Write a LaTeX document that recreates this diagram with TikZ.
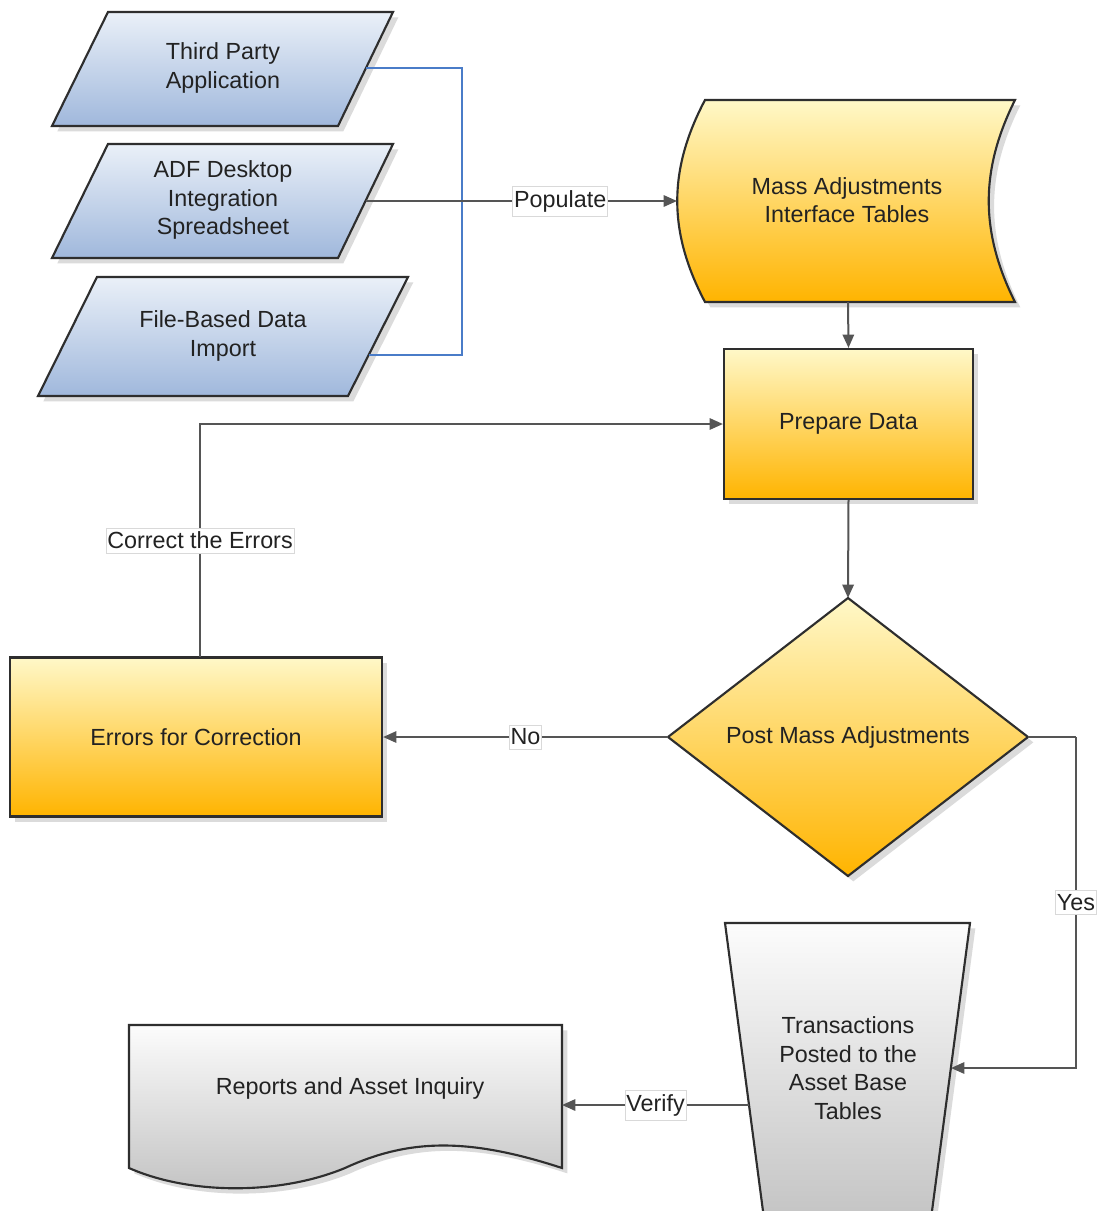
\documentclass[tikz,border=0pt]{standalone}
\usepackage{fontspec}
\setmainfont{Liberation Sans}
\usetikzlibrary{arrows.meta}
\definecolor{ytop}{HTML}{FFF8C8}
\definecolor{ybot}{HTML}{FFB400}
\definecolor{btop}{HTML}{EAF0F8}
\definecolor{bbot}{HTML}{A0B8DC}
\definecolor{gtop}{HTML}{FCFCFC}
\definecolor{gbot}{HTML}{C2C2C2}
\definecolor{edgec}{HTML}{2E2E2E}
\definecolor{connc}{HTML}{555555}
\definecolor{bluel}{HTML}{4A7CC8}
\definecolor{txtc}{HTML}{222222}
\begin{document}
\begin{tikzpicture}[x=0.75pt,y=-0.75pt,
  font=\fontsize{17.5}{21.5}\selectfont, text=txtc,
  sh/.style={preaction={fill=black!14, transform canvas={xshift=4pt,yshift=-4pt}}},
  yshape/.style={sh, draw=edgec, line width=1.6pt, top color=ytop, bottom color=ybot},
  bshape/.style={sh, draw=edgec, line width=1.6pt, top color=btop, bottom color=bbot},
  gshape/.style={sh, draw=edgec, line width=1.6pt, top color=gtop, bottom color=gbot},
  txt/.style={align=center, inner sep=0pt},
  conn/.style={draw=connc, line width=1.5pt, -{Triangle[length=10pt,width=8.5pt]}},
  plain/.style={draw=connc, line width=1.5pt},
  bluecon/.style={draw=bluel, line width=1.3pt},
  lab/.style={fill=white, draw=black!15, line width=0.5pt, inner xsep=1pt, inner ysep=3pt, text=txtc}]
\fill[white] (0,0) rectangle (1097,1211);
\useasboundingbox (0,0) rectangle (1097,1211);
\clip (0,0) rectangle (1097,1211);

% input parallelograms
\path[bshape] (108,12) -- (393,12) -- (338,126) -- (52,126) -- cycle;
\node[txt] (tpa) at (223,68) {Third Party\\Application};
\path[bshape] (108,144) -- (393,144) -- (338,258) -- (52,258) -- cycle;
\node[txt] (adf) at (223,200) {ADF Desktop\\Integration\\Spreadsheet};
\path[bshape] (97,277) -- (408,277) -- (348,396) -- (38,396) -- cycle;
\node[txt] (fbdi) at (223,336) {File-Based Data\\Import};
\coordinate (tpa-e) at (366,68);
\coordinate (adf-e) at (365.5,201);
\coordinate (fbdi-e) at (368.5,355);
\coordinate (brk) at (462,201);

% interface tables
\path[yshape] (705,100) -- (1015,100) .. controls (980,170) and (980,232) .. (1015,302)
  -- (705,302) .. controls (668,232) and (668,170) .. (705,100) -- cycle;
\node[txt] (mait) at (847,200) {Mass Adjustments\\Interface Tables};
\coordinate (mait-w) at (677,201);
\coordinate (mait-s) at (848,302);

% prepare data
\node[yshape, minimum width=186.75pt, minimum height=112.5pt, inner sep=0pt] (prep) at (848.5,424) {Prepare Data};

% decision
\path[yshape] (848,598) -- (1028,737) -- (848,876) -- (668,737) -- cycle;
\node[txt] (post) at (848,737) {Post Mass Adjustments};
\coordinate (post-n) at (848,598);
\coordinate (post-w) at (668,737);
\coordinate (post-e) at (1028,737);
\coordinate (yesc) at (1076,737);

% errors
\node[yshape, minimum width=279pt, minimum height=119.25pt, inner sep=0pt] (err) at (196,737) {Errors for Correction};
\coordinate (err-n) at (200,657);

% transactions
\path[gshape] (725,923) -- (970,923) -- (929.5,1230) -- (765.5,1230) -- cycle;
\node[txt] (trans) at (848,1068) {Transactions\\Posted to the\\Asset Base\\Tables};
\coordinate (trans-e) at (951,1068);
\coordinate (trans-w) at (749,1105);

% reports
\path[gshape] (129,1025) -- (562,1025) -- (562,1168)
  .. controls (470,1138) and (410,1138) .. (345,1168)
  .. controls (280,1195) and (190,1195) .. (129,1168) -- cycle;
\node[txt] (rep) at (350,1088) {Reports and Asset Inquiry};
\coordinate (rep-e) at (562,1105);

% connectors
\draw[bluecon] (tpa-e) -| (brk) |- (fbdi-e);
\draw[conn] (adf-e) -- (mait-w) node[lab, pos=0.625] {Populate};
\draw[conn] (mait-s) -- (prep.north);
\draw[conn] (prep.south) -- (post-n);
\draw[conn] (post-w) -- (err.east) node[lab, midway] {No};
\draw[conn] (err-n) |- (prep.west) node[lab, pos=0.25] {Correct the Errors};
\draw[plain] (post-e) -- (yesc);
\draw[conn] (yesc) |- (trans-e) node[lab, pos=0.25] {Yes};
\draw[conn] (trans-w) -- (rep-e) node[lab, midway] {Verify};
\end{tikzpicture}
\end{document}
